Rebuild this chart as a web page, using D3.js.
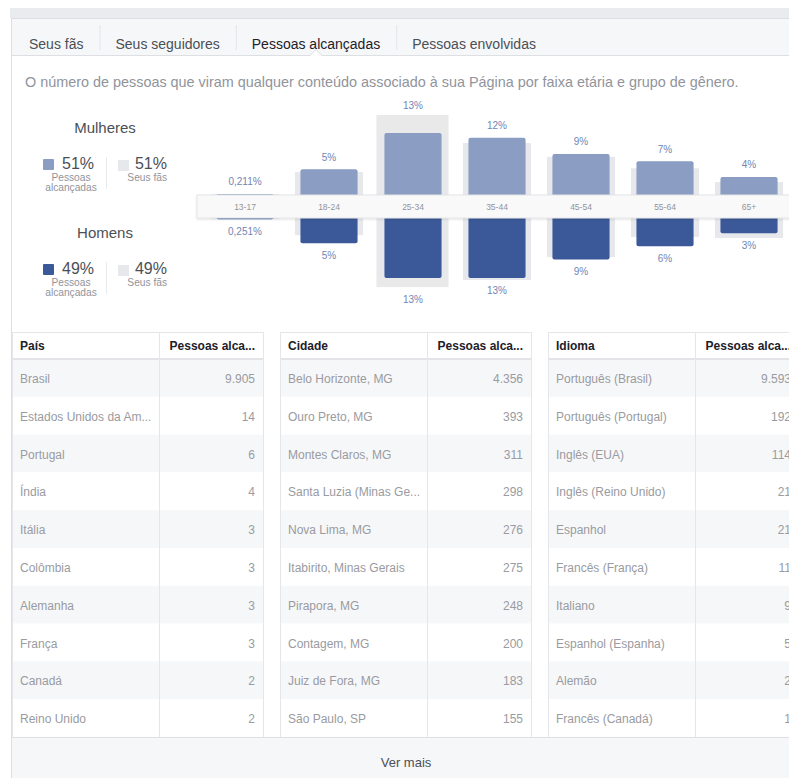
<!DOCTYPE html>
<html><head><meta charset="utf-8">
<script src="https://cdn.jsdelivr.net/npm/d3@7"></script>
<style>
html,body{margin:0;padding:0;background:#fff;overflow:hidden}
svg{display:block;font-family:Helvetica, Arial, "Liberation Sans", sans-serif}
</style></head><body>
<svg id="c" width="789" height="778"></svg>
<script>
// ---------- data ----------
const tabs = ["Seus fãs", "Seus seguidores", "Pessoas alcançadas", "Pessoas envolvidas"];
const selectedTab = "Pessoas alcançadas";
const description = "O número de pessoas que viram qualquer conteúdo associado à sua Página por faixa etária e grupo de gênero.";
const genders = ["Mulheres", "Homens"];
const genderReachedShare = [51, 49];
const genderFansShare = [51, 49];
const reachedLabel = ["Pessoas", "alcançadas"];
const fansLabel = "Seus fãs";
const ageGroups = ["13-17", "18-24", "25-34", "35-44", "45-54", "55-64", "65+"];
const womenReached = [0.211, 5.4, 13.0, 12.0, 8.6, 7.1, 3.8];
const menReached   = [0.251, 5.3, 12.6, 12.6, 8.7, 5.9, 3.2];
const womenFans    = [0.2, 4.8, 12.5, 10.9, 8.0, 5.6, 2.7];
const menFans      = [0.25, 3.6, 12.5, 13.0, 8.2, 4.0, 4.2];
const highlightedGroup = "25-34";
const countries = ["Brasil", "Estados Unidos da América", "Portugal", "Índia", "Itália", "Colômbia", "Alemanha", "França", "Canadá", "Reino Unido"];
const countryReach = [9905, 14, 6, 4, 3, 3, 3, 3, 2, 2];
const cities = ["Belo Horizonte, MG", "Ouro Preto, MG", "Montes Claros, MG", "Santa Luzia (Minas Gerais)", "Nova Lima, MG", "Itabirito, Minas Gerais", "Pirapora, MG", "Contagem, MG", "Juiz de Fora, MG", "São Paulo, SP"];
const cityReach = [4356, 393, 311, 298, 276, 275, 248, 200, 183, 155];
const languages = ["Português (Brasil)", "Português (Portugal)", "Inglês (EUA)", "Inglês (Reino Unido)", "Espanhol", "Francês (França)", "Italiano", "Espanhol (Espanha)", "Alemão", "Francês (Canadá)"];
const languageReach = [9593, 192, 114, 21, 21, 11, 9, 5, 2, 1];
const tableHeaders = [["País", "Pessoas alcançadas"], ["Cidade", "Pessoas alcançadas"], ["Idioma", "Pessoas alcançadas"]];
const moreLabel = "Ver mais";

// ---------- drawing ----------
const svg = d3.select("#c");
const C = {dark:"#1d2129", text:"#4b4f56", grey:"#90949c", border:"#dddfe2",
           women:"#8b9dc3", men:"#3b5998", fans:"#e6e8ec", label:"#7385b3"};
const defs = svg.append("defs");
const f = defs.append("filter").attr("id","sh").attr("x","-5%").attr("y","-60%").attr("width","110%").attr("height","220%");
f.append("feDropShadow").attr("dx",0).attr("dy",1).attr("stdDeviation",1.2).attr("flood-color","#000").attr("flood-opacity",0.12);

// frame
svg.append("rect").attr("x",10).attr("y",8).attr("width",779).attr("height",10).attr("fill","#e9ebee");
svg.append("rect").attr("x",11.5).attr("y",18.5).attr("width",800).attr("height",770).attr("fill","#fff").attr("stroke",C.border);
svg.append("rect").attr("x",12).attr("y",19).attr("width",777).attr("height",36).attr("fill","#f6f7f9");
svg.append("line").attr("x1",12).attr("x2",789).attr("y1",55.5).attr("y2",55.5).attr("stroke",C.border);

// tabs
let tx = 29;
tabs.forEach((t, i) => {
  const el = svg.append("text").attr("x", tx).attr("y", 49).attr("font-size", 14)
    .attr("fill", t === selectedTab ? C.dark : C.text).text(t);
  const w = el.node().getComputedTextLength();
  if (i < tabs.length - 1) {
    svg.append("line").attr("x1", tx + w + 16.5).attr("x2", tx + w + 16.5).attr("y1", 25).attr("y2", 50).attr("stroke", "#e3e5e8");
  }
  if (t === selectedTab) {
    const cx = tx + w / 2;
    svg.append("path").attr("d", `M${cx-6},56 L${cx},50 L${cx+6},56 Z`).attr("fill", "#fff");
    svg.append("path").attr("d", `M${cx-6},55.5 L${cx},49.5 L${cx+6},55.5`).attr("fill", "none").attr("stroke", C.border);
  }
  tx = tx + w + 32;
});

// description
svg.append("text").attr("x", 25).attr("y", 87).attr("font-size", 14.4).attr("fill", C.grey).text(description);

// legend
genders.forEach((g, i) => {
  const oy = i * 105;
  const col = i === 0 ? C.women : C.men;
  svg.append("text").attr("x", 105).attr("y", 133 + oy).attr("text-anchor", "middle").attr("font-size", 15).attr("fill", C.text).text(g);
  svg.append("rect").attr("x", 43).attr("y", 159 + oy).attr("width", 11).attr("height", 11).attr("rx", 1).attr("fill", col);
  svg.append("text").attr("x", 62).attr("y", 169 + oy).attr("font-size", 16).attr("fill", C.text).text(genderReachedShare[i] + "%");
  reachedLabel.forEach((s, k) => svg.append("text").attr("x", 71).attr("y", 180.5 + k * 10.5 + oy).attr("text-anchor", "middle")
    .attr("font-size", 10.2).attr("fill", C.grey).text(s));
  svg.append("line").attr("x1", 106.5).attr("x2", 106.5).attr("y1", 157 + oy).attr("y2", 189 + oy).attr("stroke", "#e9ebee");
  svg.append("rect").attr("x", 118).attr("y", 160 + oy).attr("width", 11).attr("height", 11).attr("fill", C.fans);
  svg.append("text").attr("x", 167).attr("y", 169 + oy).attr("text-anchor", "end").attr("font-size", 16).attr("fill", C.text).text(genderFansShare[i] + "%");
  svg.append("text").attr("x", 167).attr("y", 181 + oy).attr("text-anchor", "end").attr("font-size", 10.2).attr("fill", C.grey).text(fansLabel);
});

// chart
const x = d3.scaleBand().domain(ageGroups).range([203, 791]).paddingInner(0.32).paddingOuter(0.16);
const h = d3.scaleLinear().domain([0, 13]).range([0, 62]);
const bandTop = 195, bandBot = 218, bw = x.bandwidth();
const fmt = v => v < 1 ? d3.format(".3f")(v).replace(".", ",") + "%" : Math.round(v) + "%";
const rows = ageGroups.map((g, i) => ({g, w: womenReached[i], m: menReached[i], wf: womenFans[i], mf: menFans[i]}));

const chart = svg.append("g");
// highlight
rows.filter(d => d.g === highlightedGroup).forEach(d => {
  const top = bandTop - h(Math.max(d.w, d.wf)) - 18;
  const bot = bandBot + h(Math.max(d.m, d.mf)) + 9;
  d.hlTop = top; d.hlBot = bot;
  chart.append("rect").attr("x", x(d.g) - 8).attr("y", top).attr("width", bw + 15).attr("height", bot - top).attr("fill", "#e9e9ea");
});
// fans shadows
chart.selectAll(".fu").data(rows).join("rect").attr("x", d => x(d.g) - 5.5).attr("width", bw + 11)
  .attr("y", d => bandTop - h(d.wf)).attr("height", d => h(d.wf) + 3).attr("fill", C.fans);
chart.selectAll(".fd").data(rows).join("rect").attr("x", d => x(d.g) - 5.5).attr("width", bw + 11)
  .attr("y", bandBot - 3).attr("height", d => h(d.mf) + 3).attr("fill", C.fans);
// bars
chart.selectAll(".bu").data(rows).join("rect").attr("x", d => x(d.g)).attr("width", bw)
  .attr("y", d => bandTop - h(d.w)).attr("height", d => h(d.w) + 5).attr("rx", 2).attr("fill", C.women);
chart.selectAll(".bd").data(rows).join("rect").attr("x", d => x(d.g)).attr("width", bw)
  .attr("y", bandBot - 5).attr("height", d => h(d.m) + 5).attr("rx", 2).attr("fill", C.men);
// axis band
chart.append("rect").attr("x", 197).attr("y", bandTop).attr("width", 600).attr("height", bandBot - bandTop)
  .attr("fill", "#f9f9fa").attr("stroke", "#e4e5e7").attr("filter", "url(#sh)");
chart.selectAll(".al").data(rows).join("text").attr("x", d => x(d.g) + bw / 2).attr("y", (bandTop + bandBot) / 2 + 3)
  .attr("text-anchor", "middle").attr("font-size", 8.5).attr("fill", C.grey).text(d => d.g);
// value labels
chart.selectAll(".lu").data(rows).join("text").attr("x", d => x(d.g) + bw / 2)
  .attr("y", d => (d.hlTop !== undefined ? d.hlTop - 10 : bandTop - h(d.w) - 12) + 3.5)
  .attr("text-anchor", "middle").attr("font-size", 10).attr("fill", C.label).text(d => fmt(d.w));
chart.selectAll(".ld").data(rows).join("text").attr("x", d => x(d.g) + bw / 2)
  .attr("y", d => (d.hlBot !== undefined ? d.hlBot + 12 : bandBot + h(d.m) + 12) + 3.5)
  .attr("text-anchor", "middle").attr("font-size", 10).attr("fill", C.label).text(d => fmt(d.m));

// tables
const nf = d3.formatLocale({decimal: ",", thousands: ".", grouping: [3], currency: ["R$", ""]}).format(",d");
const tables = [[countries, countryReach], [cities, cityReach], [languages, languageReach]];
const tX = d3.scaleBand().domain([0, 1, 2]).range([12, 800]).paddingInner(16 / 268);
const tW = tX.bandwidth();
const rY = d3.scaleBand().domain(d3.range(10)).range([359, 737]);
const headTop = 332, tableBot = 737, divX = 147;

function fit(sel, maxW) {
  const node = sel.node();
  let s = sel.text();
  if (node.getComputedTextLength() <= maxW) return;
  while (s.length > 1) {
    s = s.slice(0, -1);
    sel.text(s.trimEnd() + "...");
    if (node.getComputedTextLength() <= maxW) break;
  }
}

tables.forEach(([names, vals], t) => {
  const x0 = tX(t);
  const g = svg.append("g");
  g.append("rect").attr("x", x0).attr("y", headTop).attr("width", tW).attr("height", 27).attr("fill", "#fff");
  g.selectAll(".r").data(names).join("rect").attr("x", x0).attr("width", tW)
    .attr("y", (d, i) => rY(i)).attr("height", rY.step()).attr("fill", (d, i) => i % 2 === 0 ? "#f6f7f9" : "#fff");
  g.append("line").attr("x1", x0).attr("x2", x0 + tW).attr("y1", headTop + 0.5).attr("y2", headTop + 0.5).attr("stroke", "#e5e6e9");
  g.append("line").attr("x1", x0).attr("x2", x0 + tW).attr("y1", 359).attr("y2", 359).attr("stroke", "#e2e4e7").attr("stroke-width", 2);
  [0.5, divX + 0.5, tW - 0.5].forEach(dx => g.append("line").attr("x1", x0 + dx).attr("x2", x0 + dx)
    .attr("y1", headTop).attr("y2", tableBot).attr("stroke", "#e5e6e9"));
  const h1 = g.append("text").attr("x", x0 + 8).attr("y", 350).attr("font-size", 12).attr("font-weight", "bold").attr("fill", C.dark).text(tableHeaders[t][0]);
  fit(h1, 130);
  const h2 = g.append("text").attr("x", x0 + tW - 9).attr("y", 350).attr("text-anchor", "end").attr("font-size", 12)
    .attr("font-weight", "bold").attr("fill", C.dark).text(tableHeaders[t][1]);
  fit(h2, 86);
  g.selectAll(".n").data(names).join("text").attr("x", x0 + 8).attr("y", (d, i) => rY(i) + rY.step() / 2 + 5)
    .attr("font-size", 12).attr("fill", "#999ba1").text(d => d).each(function () { fit(d3.select(this), 133); });
  g.selectAll(".v").data(vals).join("text").attr("x", x0 + tW - 9).attr("y", (d, i) => rY(i) + rY.step() / 2 + 5)
    .attr("text-anchor", "end").attr("font-size", 12).attr("fill", "#999ba1").text(d => nf(d));
});

// footer
svg.append("rect").attr("x", 12).attr("y", tableBot).attr("width", 777).attr("height", 41).attr("fill", "#f6f7f9");
svg.append("line").attr("x1", 12).attr("x2", 789).attr("y1", tableBot + 0.5).attr("y2", tableBot + 0.5).attr("stroke", C.border);
svg.append("text").attr("x", 406).attr("y", 767).attr("text-anchor", "middle").attr("font-size", 13).attr("fill", C.text).text(moreLabel);
</script>
</body></html>
